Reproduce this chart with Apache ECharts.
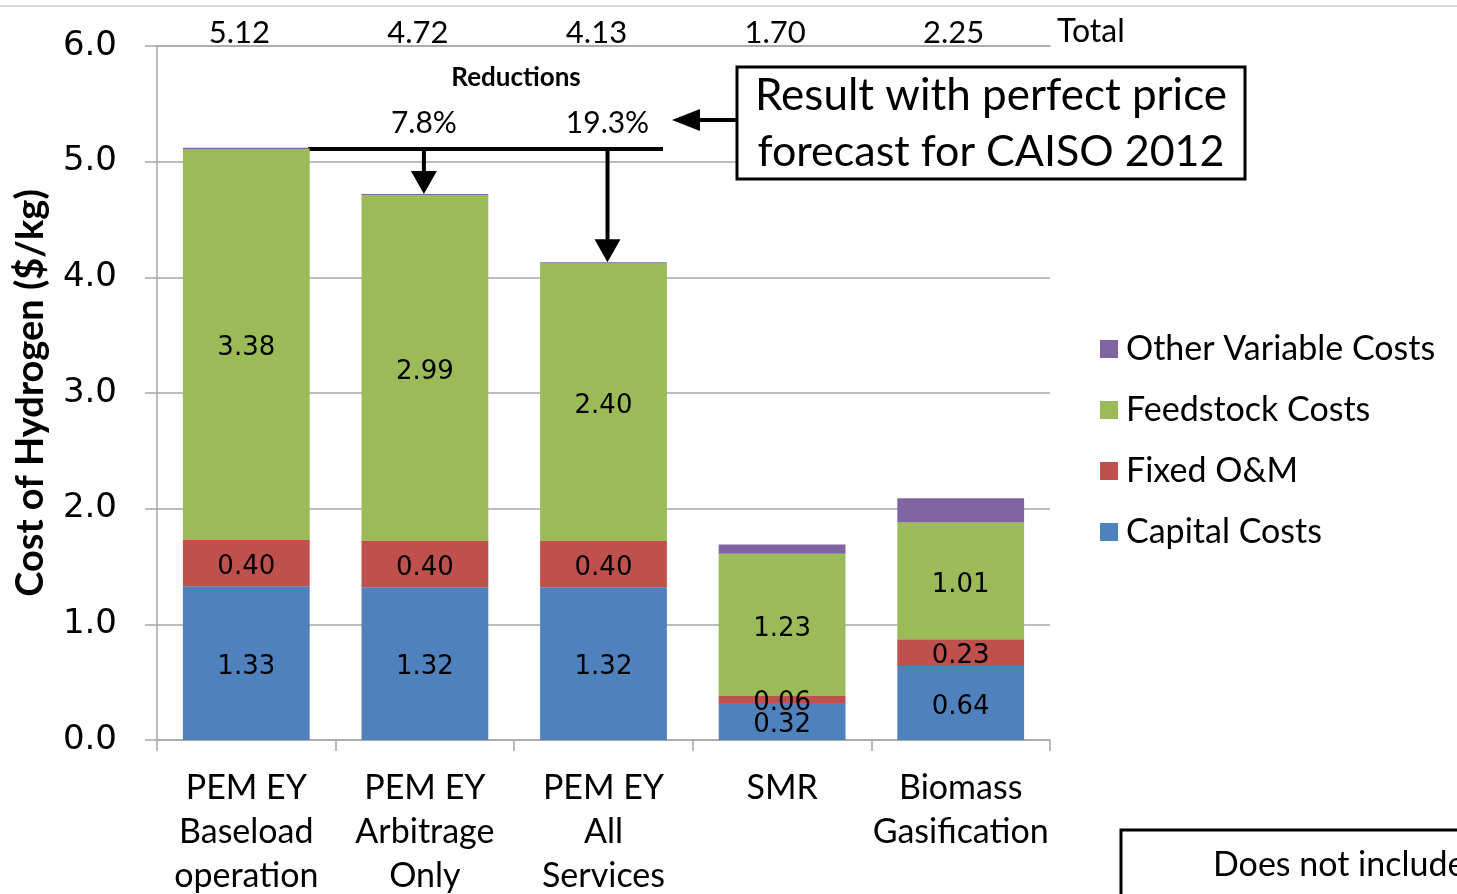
<!DOCTYPE html>
<html>
<head>
<meta charset="utf-8">
<script src="https://cdn.jsdelivr.net/npm/echarts@6/dist/echarts.min.js"></script>
<style>
  html, body { margin: 0; padding: 0; background: #fff; }
  #chart { width: 1457px; height: 894px; }
</style>
</head>
<body>
<div id="chart"></div>
<script>
// categories and stacked values ($/kg)
const categories = [
  "PEM EY\nBaseload\noperation",
  "PEM EY\nArbitrage\nOnly",
  "PEM EY\nAll\nServices",
  "SMR",
  "Biomass\nGasification"
];
const capitalCosts = [1.33, 1.32, 1.32, 0.32, 0.64];
const fixedOM = [0.40, 0.40, 0.40, 0.06, 0.23];
const feedstockCosts = [3.38, 2.99, 2.40, 1.23, 1.01];
const otherVariable = [0.01, 0.01, 0.01, 0.08, 0.21];
const totals = ["5.12", "4.72", "4.13", "1.70", "2.25"];
const reductions = ["", "7.8%", "19.3%", "", ""];
const yTicks = { min: 0, max: 6, interval: 1 };

const gray = "#a6a6a6";
const labelFont = "DejaVu Sans";
const textFont = "Lato";

const chart = echarts.init(document.getElementById("chart"));

function segment(name, data, color, showLabel) {
  return {
    name: name,
    type: "bar",
    stack: "cost",
    data: data,
    barCategoryGap: "29%",
    itemStyle: { color: color },
    label: {
      show: showLabel,
      position: "inside",
      offset: [0, 4],
      color: "#000",
      fontFamily: labelFont,
      fontSize: 26,
      formatter: (p) => p.value.toFixed(2),
    },
  };
}

const option = {
  animation: false,
  grid: { left: 157, right: 407, top: 46, bottom: 154, outerBoundsMode: "none", containLabel: false },
  legend: {
    orient: "vertical",
    left: 1095,
    top: 327,
    icon: "rect",
    itemWidth: 18,
    itemHeight: 18,
    itemGap: 27,
    textStyle: { fontFamily: textFont, fontSize: 34, color: "#000", padding: [0, 0, 0, 3] },
    data: ["Other Variable Costs", "Feedstock Costs", "Fixed O&M", "Capital Costs"],
  },
  xAxis: [
    {
      type: "category",
      data: categories,
      axisLine: { lineStyle: { color: gray, width: 1.5 } },
      axisTick: { show: true, length: 11, lineStyle: { color: gray, width: 1.5 } },
      axisLabel: {
        interval: 0,
        margin: 26,
        color: "#000",
        fontFamily: textFont,
        fontSize: 34,
        lineHeight: 44,
      },
    },
    {
      type: "category",
      position: "top",
      data: totals,
      axisLine: { lineStyle: { color: gray, width: 1.5 } },
      axisTick: { show: false },
      axisLabel: {
        interval: 0,
        margin: -2,
        color: "#000",
        fontFamily: textFont,
        fontSize: 31,
        padding: [0, 14, 0, 0],
      },
    },
  ],
  yAxis: {
    type: "value",
    min: yTicks.min,
    max: yTicks.max,
    interval: yTicks.interval,
    name: "Cost of Hydrogen ($/kg)",
    nameLocation: "middle",
    nameGap: 107,
    nameTextStyle: { fontFamily: textFont, fontWeight: "bold", fontSize: 38, color: "#000" },
    axisLine: { show: true, lineStyle: { color: gray, width: 1.5 } },
    axisTick: { show: true, length: 12, lineStyle: { color: gray, width: 1.5 } },
    axisLabel: {
      margin: 40,
      color: "#000",
      fontFamily: labelFont,
      fontSize: 34,
      padding: [5, 0, 0, 0],
      formatter: (v) => v.toFixed(1),
    },
    splitLine: { lineStyle: { color: gray, width: 1.5 } },
  },
  series: [
    segment("Capital Costs", capitalCosts, "#4f81bd", true),
    segment("Fixed O&M", fixedOM, "#c0504d", true),
    segment("Feedstock Costs", feedstockCosts, "#9bbb59", true),
    segment("Other Variable Costs", otherVariable, "#8064a2", false),
  ],
};

chart.setOption(option);

// annotations placed relative to the bars
const cx = (i) => chart.convertToPixel({ xAxisIndex: 0 }, categories[i]);
const barTop = (i) =>
  chart.convertToPixel({ yAxisIndex: 0 },
    capitalCosts[i] + fixedOM[i] + feedstockCosts[i] + otherVariable[i]);

const barLineY = 149;
const nudge = { 1: -1, 2: 4 };
const graphics = [
  { type: "line", shape: { x1: 0, y1: 6, x2: 1457, y2: 6 }, style: { stroke: "#c8c8c8", lineWidth: 1.5 } },
  { type: "text", x: 1057, y: 32, style: { text: "Total", font: "32px Lato", fill: "#000", textVerticalAlign: "middle" } },
  { type: "text", x: 516, y: 78, style: { text: "Reductions", font: "bold 26px Lato", fill: "#000", textAlign: "center", textVerticalAlign: "middle" } },
  { type: "line", shape: { x1: 308, y1: barLineY, x2: 663, y2: barLineY }, style: { stroke: "#000", lineWidth: 4 } },
];
[1, 2].forEach((i) => {
  const x = cx(i) + nudge[i];
  const yEnd = barTop(i);
  graphics.push(
    { type: "text", x: x, y: 123, style: { text: reductions[i], font: "30px Lato", fill: "#000", textAlign: "center", textVerticalAlign: "middle" } },
    { type: "line", shape: { x1: x, y1: barLineY, x2: x, y2: yEnd - 20 }, style: { stroke: "#000", lineWidth: 4 } },
    { type: "polygon", shape: { points: [[x - 13, yEnd - 23], [x + 13, yEnd - 23], [x, yEnd]] }, style: { fill: "#000" } }
  );
});
graphics.push(
  { type: "line", shape: { x1: 737, y1: 120, x2: 696, y2: 120 }, style: { stroke: "#000", lineWidth: 4 } },
  { type: "polygon", shape: { points: [[700, 109], [700, 131], [672, 120]] }, style: { fill: "#000" } },
  { type: "rect", shape: { x: 737, y: 67, width: 508, height: 112 }, style: { fill: "#fff", stroke: "#000", lineWidth: 3 } },
  { type: "text", x: 991, y: 96, style: { text: "Result with perfect price", font: "44px Lato", fill: "#000", textAlign: "center", textVerticalAlign: "middle" } },
  { type: "text", x: 991, y: 152, style: { text: "forecast for CAISO 2012", font: "43px Lato", fill: "#000", textAlign: "center", textVerticalAlign: "middle" } },
  { type: "rect", shape: { x: 1121, y: 830, width: 400, height: 100 }, style: { fill: "#fff", stroke: "#000", lineWidth: 3 } },
  { type: "text", x: 1213, y: 865, style: { text: "Does not include", font: "34px Lato", fill: "#000", textVerticalAlign: "middle" } }
);

chart.setOption({ graphic: graphics });
</script>
</body>
</html>
